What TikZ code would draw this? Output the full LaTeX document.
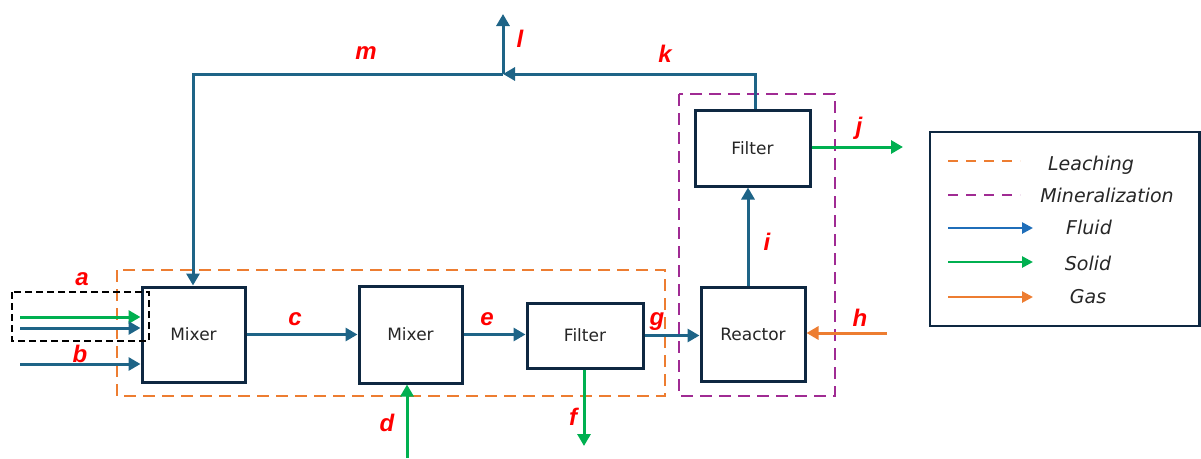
\documentclass[tikz,border=0pt]{standalone}
\usepackage{fontspec}
\setmainfont{DejaVu Sans}
\newfontfamily\lblfont{Liberation Sans}
\usetikzlibrary{arrows.meta}
\definecolor{flowc}{RGB}{30,100,135}
\definecolor{fluidleg}{RGB}{31,110,185}
\definecolor{solidc}{RGB}{0,176,80}
\definecolor{gasc}{RGB}{237,125,49}
\definecolor{purplec}{RGB}{160,43,147}
\definecolor{boxc}{RGB}{14,40,65}
\definecolor{txtc}{RGB}{38,38,38}
\tikzset{
  unit/.style={draw=boxc, line width=3pt, fill=white, text=txtc, font=\fontsize{17}{20}\selectfont, inner sep=0pt},
  flowarrow/.style={line width=3pt, -{Triangle[length=12pt,width=13pt]}},
  fluid/.style={flowarrow, draw=flowc},
  solid/.style={flowarrow, draw=solidc},
  gas/.style={flowarrow, draw=gasc},
  lbl/.style={text=red, font=\lblfont\bfseries\itshape\fontsize{24}{28}\selectfont, anchor=base, inner sep=0pt},
  legtxt/.style={text=txtc, font=\itshape\fontsize{19}{22}\selectfont, anchor=base, inner sep=0pt},
  leachbox/.style={draw=gasc, line width=2.6pt, dash pattern=on 12pt off 7pt},
  minbox/.style={draw=purplec, line width=2.6pt, dash pattern=on 12pt off 7pt},
}
\begin{document}
\begin{tikzpicture}[x=1pt,y=-1pt]
\useasboundingbox (0,0) rectangle (1201,458);
% stage boxes
\draw[leachbox] (117,270) rectangle (665,396);
\draw[minbox] (679,94) rectangle (835,396);
% units
\node[unit, minimum width=103pt, minimum height=95pt] (m1) at (193.5,334.5) {Mixer};
\node[unit, minimum width=103pt, minimum height=97pt] (m2) at (410.5,334.5) {Mixer};
\node[unit, minimum width=116pt, minimum height=65pt] (f1) at (585,335.5) {Filter};
\node[unit, minimum width=104pt, minimum height=94pt] (r) at (753,334) {Reactor};
\node[unit, minimum width=115pt, minimum height=76pt] (f2) at (752.5,148) {Filter};
% coordinates
\coordinate (a1) at (20,317);
\coordinate (a2) at (20,328);
\coordinate (b0) at (20,364);
\coordinate (d0) at (407,458);
\coordinate (dx) at (407,0);
\coordinate (f0) at (584,446);
\coordinate (fx) at (584,0);
\coordinate (h0) at (887,333);
\coordinate (ix) at (748,0);
\coordinate (j0) at (903,147);
\coordinate (kx) at (755,0);
\coordinate (jn) at (503,74);
\coordinate (l0) at (503,14);
\coordinate (mx) at (193,0);
% flows
\draw[solid] (a1) -- (a1 -| m1.west);
\draw[fluid] (a2) -- (a2 -| m1.west);
\draw[fluid] (b0) -- (b0 -| m1.west);
\draw[fluid] (m1.east) -- (m2.west);
\draw[solid] (d0) -- (dx |- m2.south);
\draw[fluid] (m2.east) -- (m2.east -| f1.west);
\draw[solid] (fx |- f1.south) -- (f0);
\draw[fluid] (f1.east) -- (f1.east -| r.west);
\draw[gas] (h0) -- (h0 -| r.east);
\draw[fluid] (ix |- r.north) -- (ix |- f2.south);
\draw[solid] (j0 -| f2.east) -- (j0);
\draw[fluid] (kx |- f2.north) |- (jn);
\draw[fluid] (jn) -- (l0);
\draw[fluid] (jn) -| (mx |- m1.north);
% black dashed group
\draw[black, line width=2.6pt, dash pattern=on 7pt off 4pt] (12,292) rectangle (149,341);
% labels
\node[lbl] (la) at (82,285) {a};
\node[lbl] (lb) at (80,362) {b};
\node[lbl] (lc) at (295,325) {c};
\node[lbl] (ld) at (387,431) {d};
\node[lbl] (le) at (487,325) {e};
\node[lbl] (lf) at (573,425) {f};
\node[lbl] (lg) at (657,325) {g};
\node[lbl] (lh) at (860,326) {h};
\node[lbl] (li) at (767,250) {i};
\node[lbl] (lj) at (859,134) {j};
\node[lbl] (lk) at (665,62) {k};
\node[lbl] (ll) at (520,47) {l};
\node[lbl] (lm) at (366,59) {m};
% legend
\draw[draw=boxc, line width=2.6pt] (930,132) rectangle (1199.7,326);
\coordinate (g1a) at (948,161); \coordinate (g1b) at (1020,161);
\coordinate (g2a) at (948,195); \coordinate (g2b) at (1020,195);
\coordinate (g3a) at (948,228); \coordinate (g3b) at (1033,228);
\coordinate (g4a) at (948,262); \coordinate (g4b) at (1033,262);
\coordinate (g5a) at (948,297); \coordinate (g5b) at (1033,297);
\draw[draw=gasc, line width=2.6pt, dash pattern=on 10pt off 8pt] (g1a) -- (g1b);
\draw[draw=purplec, line width=2.6pt, dash pattern=on 10pt off 8pt] (g2a) -- (g2b);
\draw[line width=2.6pt, draw=fluidleg, -{Triangle[length=11pt,width=11pt]}] (g3a) -- (g3b);
\draw[line width=2.6pt, draw=solidc, -{Triangle[length=11pt,width=11pt]}] (g4a) -- (g4b);
\draw[line width=2.6pt, draw=gasc, -{Triangle[length=11pt,width=11pt]}] (g5a) -- (g5b);
\node[legtxt] (t1) at (1091,170) {Leaching};
\node[legtxt] (t2) at (1107,202) {Mineralization};
\node[legtxt] (t3) at (1089,234) {Fluid};
\node[legtxt] (t4) at (1088,270) {Solid};
\node[legtxt] (t5) at (1088,303) {Gas};
\end{tikzpicture}
\end{document}
